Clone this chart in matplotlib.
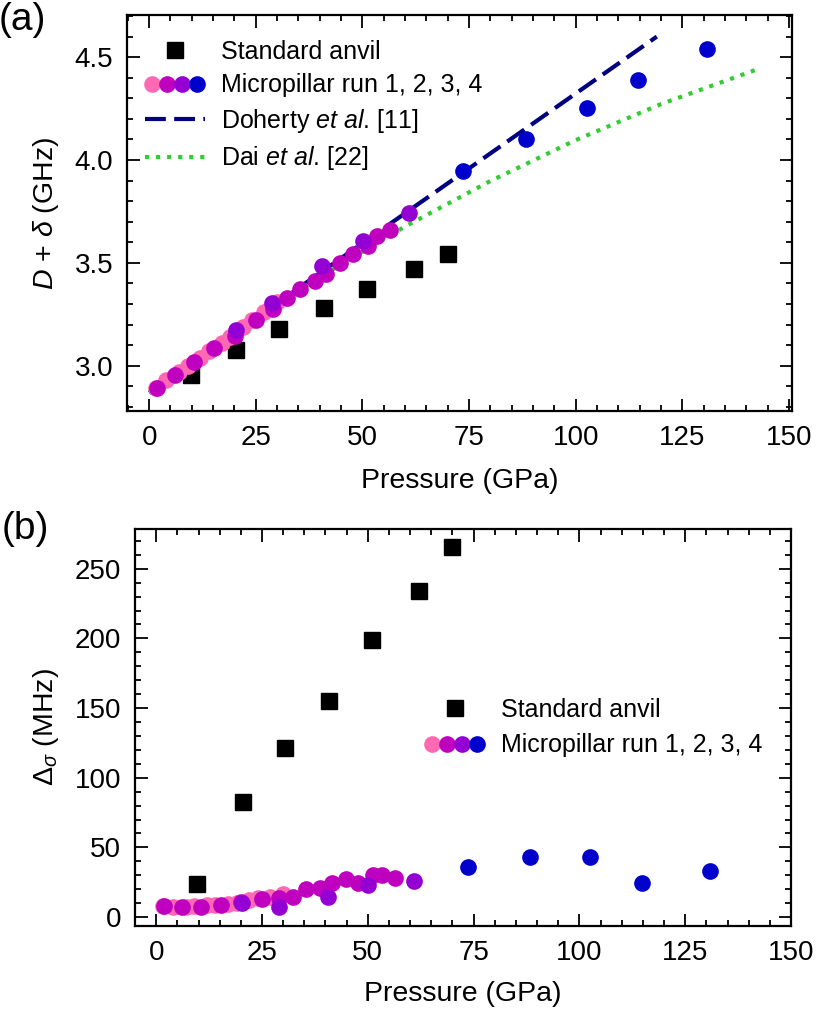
import matplotlib
matplotlib.use("Agg")
import matplotlib.pyplot as plt
from matplotlib.lines import Line2D
from matplotlib.legend_handler import HandlerTuple
from matplotlib.ticker import MultipleLocator

plt.rcParams['font.family'] = ['Liberation Sans', 'DejaVu Sans']
plt.rcParams['mathtext.fontset'] = 'custom'
plt.rcParams['mathtext.rm'] = 'Liberation Sans'
plt.rcParams['mathtext.it'] = 'Liberation Sans:italic'
plt.rcParams['font.size'] = 18

# standard anvil
anvil_p = [9.7, 20.4, 30.5, 40.9, 51.0, 62.0, 70.0]
anvil_d = [2.954, 3.076, 3.181, 3.282, 3.375, 3.469, 3.545]
anvil_w = [24.0, 82.3, 121.3, 155.2, 198.8, 233.7, 265.3]

# micropillar run 1
run1_p = [1.5, 4.0, 7.0, 9.0, 12.0, 14.0, 17.0, 19.0, 22.0, 24.0, 27.0, 30.0]
run1_d = [2.89, 2.93, 2.97, 3.00, 3.04, 3.07, 3.11, 3.14, 3.19, 3.22, 3.26, 3.31]
run1_w = [8.0, 7.5, 7.5, 8.0, 8.5, 9.0, 9.5, 10.0, 12.5, 13.5, 14.5, 16.5]

# run 2
run2_p = [1.9, 6.1, 10.5, 15.3, 20.1, 25.0, 29.0, 32.4, 35.3, 38.8, 41.5,
          44.8, 47.7, 51.2, 53.3, 56.4]
run2_d = [2.890, 2.953, 3.018, 3.084, 3.144, 3.221, 3.277, 3.327, 3.374,
          3.411, 3.448, 3.500, 3.545, 3.581, 3.629, 3.662]
run2_w = [8.0, 7.5, 7.5, 8.7, 10.5, 12.8, 13.5, 14.6, 19.9, 21.1, 24.7,
          27.3, 24.7, 30.2, 30.2, 28.3]

# run 3
run3_p = [20.3, 28.9, 40.6, 50.1, 60.9]
run3_d = [3.176, 3.306, 3.484, 3.605, 3.743]
run3_w = [10.3, 7.0, 14.2, 23.0, 26.1]

# run 4
run4_p = [73.6, 88.4, 102.6, 114.7, 130.8]
run4_d = [3.948, 4.102, 4.255, 4.390, 4.539]
run4_w = [35.7, 42.9, 43.3, 24.5, 33.3]

# theory curves
doherty_p = [0, 119]
doherty_d = [2.868, 4.600]
dai_p = [0, 20, 40, 60, 80, 100, 120, 142]
dai_d = [2.870, 3.162, 3.431, 3.677, 3.898, 4.097, 4.272, 4.437]

run_colors = ['#ff69b4', '#bf00bf', '#9400d3', '#0000cd']
runs_p = [run1_p, run2_p, run3_p, run4_p]
runs_d = [run1_d, run2_d, run3_d, run4_d]
runs_w = [run1_w, run2_w, run3_w, run4_w]

MS = 12
TICK_FS = 20
LABEL_FS = 20.5


def style_axes(ax, ymajor, yminor):
    ax.xaxis.set_major_locator(MultipleLocator(25))
    ax.xaxis.set_minor_locator(MultipleLocator(5))
    ax.yaxis.set_major_locator(MultipleLocator(ymajor))
    ax.yaxis.set_minor_locator(MultipleLocator(yminor))
    ax.tick_params(which='both', direction='in', top=True, right=True,
                   width=1.3, labelsize=TICK_FS)
    ax.tick_params(which='major', length=9)
    ax.tick_params(which='minor', length=4.5)
    ax.tick_params(axis='x', pad=10)
    ax.tick_params(axis='y', pad=10)
    for s in ax.spines.values():
        s.set_linewidth(1.6)


def run_handles():
    circles = tuple(Line2D([], [], marker='o', ls='none', ms=MS, color=c,
                           markeredgewidth=0) for c in run_colors)
    square = Line2D([], [], marker='s', ls='none', ms=MS - 1, color='black')
    return square, circles


fig = plt.figure(figsize=(8.31, 10.28), dpi=100)

# (a)
ax1 = fig.add_axes([0.1528, 0.6002, 0.8003, 0.3852])
ax1.plot(anvil_p, anvil_d, 's', ms=MS - 1, color='black', zorder=2)
ax1.plot(doherty_p, doherty_d, color='#000080', lw=3, dashes=(5, 2), zorder=2.5)
ax1.plot(dai_p, dai_d, color='#33cc33', lw=3, ls=':', zorder=2.5)
for p, d, c in zip(runs_p, runs_d, run_colors):
    ax1.plot(p, d, 'o', ms=MS, color=c, markeredgewidth=0, zorder=3)
ax1.set_xlim(-5.2, 150.7)
ax1.set_ylim(2.78, 4.705)
style_axes(ax1, 0.5, 0.1)
ax1.set_xlabel('Pressure (GPa)', fontsize=LABEL_FS, labelpad=12)
ax1.set_ylabel('$D$ + $\\delta$ (GHz)', fontsize=LABEL_FS, labelpad=10)

sq, circ = run_handles()
h_doh = Line2D([], [], color='#000080', lw=3, dashes=(5, 2))
h_dai = Line2D([], [], color='#33cc33', lw=3, ls=':')
ax1.legend([sq, circ, h_doh, h_dai],
           ['Standard anvil', 'Micropillar run 1, 2, 3, 4',
            'Doherty $et$ $al$. [11]', 'Dai $et$ $al$. [22]'],
           handler_map={tuple: HandlerTuple(ndivide=None, pad=0)},
           loc='upper left', bbox_to_anchor=(0.027, 0.937), frameon=False,
           borderpad=0, borderaxespad=0, handlelength=2.4,
           handletextpad=0.65, labelspacing=0.38)

# (b)
ax2 = fig.add_axes([0.1625, 0.0995, 0.7894, 0.3859])
ax2.plot(anvil_p, anvil_w, 's', ms=MS - 1, color='black', zorder=2)
for p, w, c in zip(runs_p, runs_w, run_colors):
    ax2.plot(p, w, 'o', ms=MS, color=c, markeredgewidth=0, zorder=3)
ax2.set_xlim(-5, 150)
ax2.set_ylim(-6.2, 278.5)
style_axes(ax2, 50, 10)
ax2.set_xlabel('Pressure (GPa)', fontsize=LABEL_FS, labelpad=11)
ax2.set_ylabel('$\\Delta_\\sigma$ (MHz)', fontsize=LABEL_FS, labelpad=10)

sq, circ = run_handles()
ax2.legend([sq, circ], ['Standard anvil', 'Micropillar run 1, 2, 3, 4'],
           handler_map={tuple: HandlerTuple(ndivide=None, pad=0)},
           loc='upper left', bbox_to_anchor=(0.442, 0.574), frameon=False,
           borderpad=0, borderaxespad=0, handlelength=2.4,
           handletextpad=0.65, labelspacing=0.45)

fig.text(0.027, 0.981, '(a)', fontsize=28, ha='center', va='center')
fig.text(0.030, 0.485, '(b)', fontsize=28, ha='center', va='center')

fig.savefig('out.png', dpi=100)
